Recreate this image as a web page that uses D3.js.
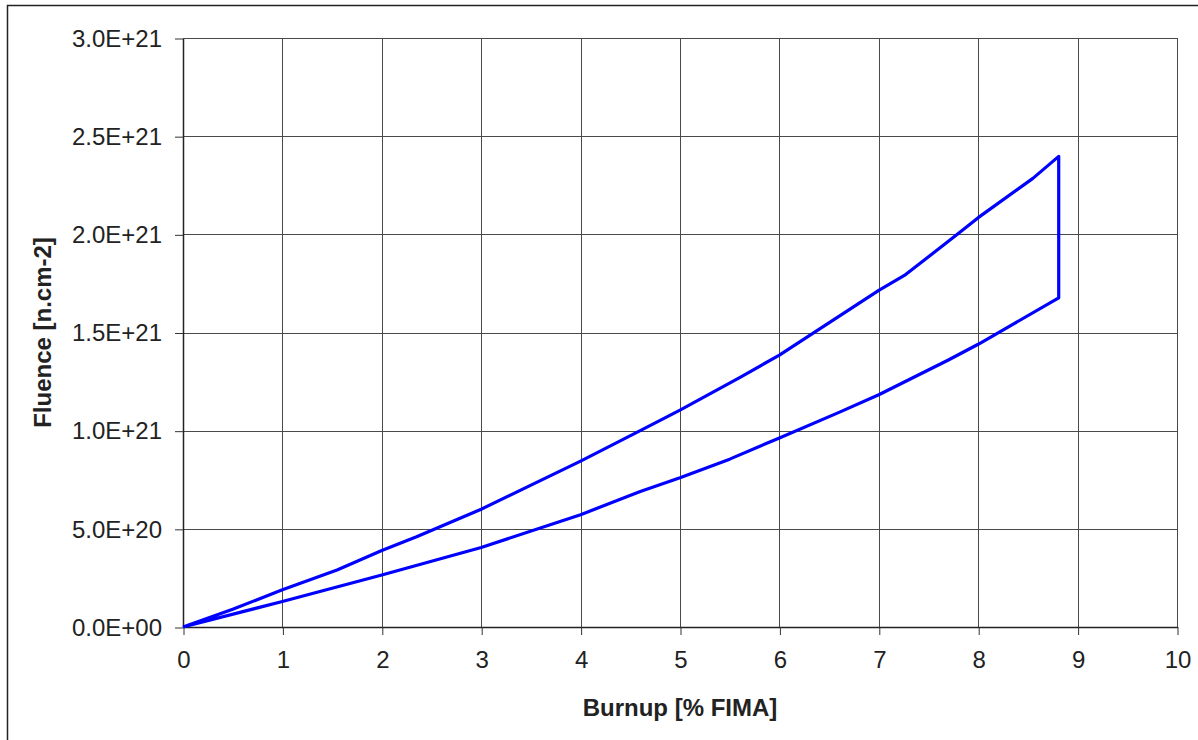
<!DOCTYPE html>
<html>
<head>
<meta charset="utf-8">
<script src="https://cdn.jsdelivr.net/npm/d3@7"></script>
<style>
  html, body { margin: 0; padding: 0; background: #fff; }
  svg { display: block; }
  text { font-family: "Liberation Sans", Arial, sans-serif; fill: #222; }
</style>
</head>
<body>
<svg id="chart" width="1198" height="740"></svg>
<script>
// Burnup [% FIMA] along the upper (high-fluence) branch
const upperBurnup  = [0, 0.5, 1.0, 1.55, 2.0, 2.35, 3.0, 4.0, 4.6, 5.0, 5.6, 6.0, 7.0, 7.27, 7.79, 8.0, 8.55, 8.81];
const upperFluence = [0, 0.09e21, 0.19e21, 0.29e21, 0.39e21, 0.46e21, 0.60e21, 0.845e21, 1.0e21, 1.105e21, 1.27e21, 1.385e21, 1.715e21, 1.795e21, 2.0e21, 2.085e21, 2.285e21, 2.397e21];
// Lower (low-fluence) branch
const lowerBurnup  = [0, 1.0, 2.0, 3.0, 4.0, 4.6, 5.0, 5.5, 6.0, 6.6, 7.0, 7.7, 8.0, 8.81];
const lowerFluence = [0, 0.13e21, 0.265e21, 0.405e21, 0.572e21, 0.69e21, 0.76e21, 0.855e21, 0.963e21, 1.093e21, 1.183e21, 1.36e21, 1.44e21, 1.676e21];

const xTicks = [0, 1, 2, 3, 4, 5, 6, 7, 8, 9, 10];
const yTicks = [0, 0.5e21, 1.0e21, 1.5e21, 2.0e21, 2.5e21, 3.0e21];
const yTickLabels = ["0.0E+00", "5.0E+20", "1.0E+21", "1.5E+21", "2.0E+21", "2.5E+21", "3.0E+21"];

const svg = d3.select("#chart");
const plot = { left: 183, right: 1177, top: 38, bottom: 627 };

const x = d3.scaleLinear().domain([0, 10]).range([plot.left, plot.right]);
const y = d3.scaleLinear().domain([0, 3.0e21]).range([plot.bottom, plot.top]);

// outer chart frame
svg.append("rect")
  .attr("x", 7.5).attr("y", 5.5)
  .attr("width", 1300).attr("height", 900)
  .attr("fill", "none").attr("stroke", "#222").attr("stroke-width", 1.5);

const crisp = v => Math.round(v) + 0.5;

// gridlines
const grid = svg.append("g").attr("stroke", "#4a4a4a").attr("stroke-width", 1);
grid.selectAll("line.v").data(xTicks).join("line")
  .attr("x1", d => crisp(x(d))).attr("x2", d => crisp(x(d)))
  .attr("y1", plot.top).attr("y2", plot.bottom);
grid.selectAll("line.h").data(yTicks).join("line")
  .attr("y1", d => crisp(y(d))).attr("y2", d => crisp(y(d)))
  .attr("x1", plot.left).attr("x2", plot.right);

// axes
const xAxis = d3.axisBottom(x).tickValues(xTicks).tickFormat(d3.format("d"))
  .tickSizeInner(8).tickSizeOuter(0).tickPadding(16);
const yAxis = d3.axisLeft(y).tickValues(yTicks)
  .tickFormat((d, i) => yTickLabels[i])
  .tickSizeInner(8).tickSizeOuter(0).tickPadding(13);

const gx = svg.append("g").attr("transform", `translate(0.5,${crisp(plot.bottom) - 0.5})`).call(xAxis);
const gy = svg.append("g").attr("transform", `translate(${crisp(plot.left) - 0.5},0.5)`).call(yAxis);
[gx, gy].forEach(g => {
  g.select(".domain").attr("stroke", "#222").attr("stroke-width", 1.5);
  g.selectAll(".tick line").attr("stroke", "#333");
  g.selectAll(".tick text").attr("font-size", 24).attr("font-family", "Liberation Sans, Arial, sans-serif").attr("fill", "#222");
});

// axis titles
svg.append("text")
  .attr("x", (plot.left + plot.right) / 2).attr("y", 716)
  .attr("text-anchor", "middle").attr("font-size", 24).attr("font-weight", "bold")
  .text("Burnup [% FIMA]");
svg.append("text")
  .attr("transform", `translate(51,${(plot.top + plot.bottom) / 2}) rotate(-90)`)
  .attr("text-anchor", "middle").attr("font-size", 24).attr("font-weight", "bold")
  .text("Fluence [n.cm-2]");

// fluence loop: up along the upper branch, down the end step, back along the lower branch
const loop = upperBurnup.map((b, i) => [b, upperFluence[i]])
  .concat(lowerBurnup.map((b, i) => [b, lowerFluence[i]]).reverse());

const line = d3.line().x(d => x(d[0])).y(d => y(d[1]));
svg.append("path")
  .datum(loop)
  .attr("d", line)
  .attr("fill", "none")
  .attr("stroke", "#0000ff")
  .attr("stroke-width", 3.2)
  .attr("stroke-linejoin", "round");
</script>
</body>
</html>
